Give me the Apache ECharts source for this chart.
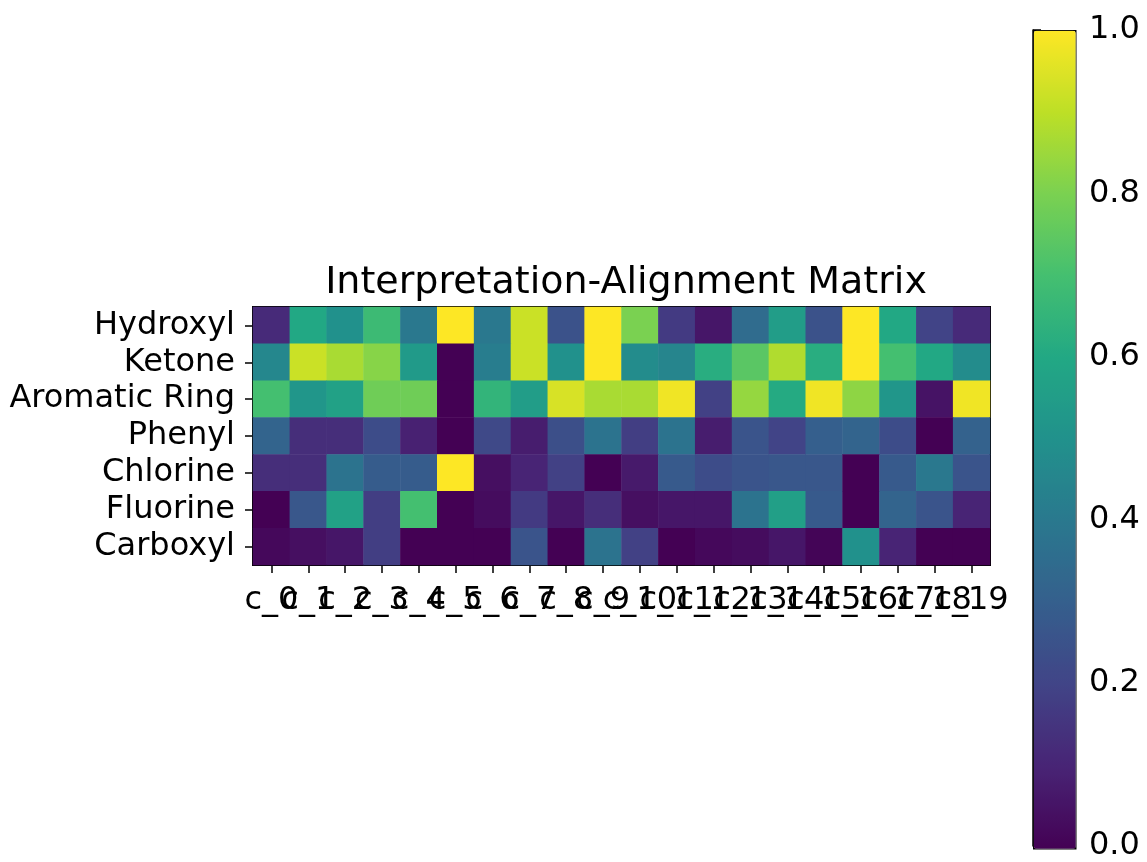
<!DOCTYPE html>
<html>
<head>
<meta charset="utf-8">
<script src="https://cdn.jsdelivr.net/npm/echarts@6/dist/echarts.min.js"></script>
<style>
  html, body { margin: 0; padding: 0; background: #fff; }
  #chart { width: 1147px; height: 862px; }
</style>
</head>
<body>
<div id="chart"></div>
<script>
const groups = ['Hydroxyl', 'Ketone', 'Aromatic Ring', 'Phenyl', 'Chlorine', 'Fluorine', 'Carboxyl']
const columns = ['c_0', 'c_1', 'c_2', 'c_3', 'c_4', 'c_5', 'c_6', 'c_7', 'c_8', 'c_9',
  'c_10', 'c_11', 'c_12', 'c_13', 'c_14', 'c_15', 'c_16', 'c_17', 'c_18', 'c_19']

const hydroxyl = [0.12, 0.60, 0.50, 0.68, 0.40, 1.00, 0.40, 0.92, 0.25, 1.00, 0.80, 0.17, 0.06, 0.35, 0.55, 0.25, 1.00, 0.60, 0.20, 0.12]
const ketone = [0.46, 0.92, 0.87, 0.82, 0.54, 0.00, 0.42, 0.92, 0.50, 1.00, 0.48, 0.45, 0.62, 0.74, 0.88, 0.62, 1.00, 0.70, 0.60, 0.48]
const aromaticRing = [0.70, 0.52, 0.57, 0.78, 0.78, 0.00, 0.65, 0.55, 0.94, 0.87, 0.87, 0.98, 0.19, 0.84, 0.61, 0.98, 0.83, 0.52, 0.05, 0.98]
const phenyl = [0.32, 0.13, 0.13, 0.23, 0.09, 0.00, 0.22, 0.08, 0.24, 0.38, 0.18, 0.38, 0.08, 0.26, 0.20, 0.30, 0.32, 0.23, 0.00, 0.31]
const chlorine = [0.13, 0.13, 0.38, 0.29, 0.29, 1.00, 0.04, 0.10, 0.19, 0.00, 0.07, 0.28, 0.23, 0.26, 0.27, 0.27, 0.00, 0.28, 0.40, 0.26]
const fluorine = [0.00, 0.27, 0.57, 0.18, 0.70, 0.00, 0.03, 0.17, 0.06, 0.13, 0.04, 0.06, 0.06, 0.38, 0.56, 0.28, 0.00, 0.32, 0.26, 0.10]
const carboxyl = [0.02, 0.04, 0.06, 0.18, 0.00, 0.00, 0.00, 0.26, 0.00, 0.38, 0.19, 0.00, 0.02, 0.03, 0.06, 0.01, 0.50, 0.10, 0.00, 0.00]

// viridis stops
const viridis = ['#440154', '#482475', '#414487', '#355f8d', '#2a788e', '#21918c',
  '#22a884', '#44bf70', '#7ad151', '#bddf26', '#fde725']

const rows = [hydroxyl, ketone, aromaticRing, phenyl, chlorine, fluorine, carboxyl]
const cells = []
rows.forEach((row, r) => {
  row.forEach((v, c) => {
    cells.push([c, r, v])
  })
})

const font = 'DejaVu Sans'
const chart = echarts.init(document.getElementById('chart'))

chart.setOption({
  backgroundColor: '#fff',
  animation: false,
  title: {
    text: 'Interpretation-Alignment Matrix',
    left: 621,
    textAlign: 'center',
    top: 259,
    textStyle: {
      fontFamily: font,
      fontSize: 38,
      fontWeight: 'normal',
      color: '#000'
    }
  },
  grid: [{
    left: 253,
    top: 307,
    width: 737,
    height: 258,
    show: true,
    borderColor: '#000',
    borderWidth: 2,
    backgroundColor: 'transparent'
  }, {
    left: 1033,
    top: 30,
    width: 42,
    height: 818,
    show: false
  }],
  xAxis: [{
    type: 'category',
    gridIndex: 0,
    data: columns,
    axisLine: { show: true, lineStyle: { color: '#000', width: 1.5 } },
    axisTick: { show: true, alignWithLabel: true, length: 8, lineStyle: { color: '#000', width: 1.5 } },
    axisLabel: {
      interval: 0,
      hideOverlap: false,
      margin: 20,
      color: '#000',
      fontFamily: font,
      fontSize: 32
    },
    splitLine: { show: false },
    splitArea: { show: false }
  }, {
    type: 'value',
    gridIndex: 1,
    show: false,
    min: 0,
    max: 1
  }],
  yAxis: [{
    type: 'category',
    gridIndex: 0,
    inverse: true,
    data: groups,
    axisLine: { show: true, lineStyle: { color: '#000', width: 1.5 } },
    axisTick: { show: true, alignWithLabel: true, length: 8, lineStyle: { color: '#000', width: 1.5 } },
    axisLabel: {
      interval: 0,
      margin: 18,
      color: '#000',
      fontFamily: font,
      fontSize: 32
    },
    splitLine: { show: false },
    splitArea: { show: false }
  }, {
    type: 'value',
    gridIndex: 1,
    position: 'right',
    min: 0,
    max: 1,
    interval: 0.2,
    axisLine: { show: true, lineStyle: { color: '#000', width: 1.5 } },
    axisTick: { show: true, length: 8, lineStyle: { color: '#000', width: 1.5 } },
    axisLabel: {
      margin: 14,
      color: '#000',
      fontFamily: font,
      fontSize: 32,
      formatter: (v) => v.toFixed(1)
    },
    splitLine: { show: false }
  }],
  visualMap: {
    type: 'continuous',
    min: 0,
    max: 1,
    seriesIndex: 0,
    calculable: false,
    left: 1033,
    top: 30,
    itemWidth: 42,
    itemHeight: 818,
    padding: 0,
    borderColor: '#000',
    borderWidth: 1.5,
    text: null,
    showLabel: false,
    inRange: { color: viridis }
  },
  series: [{
    type: 'heatmap',
    xAxisIndex: 0,
    yAxisIndex: 0,
    data: cells,
    itemStyle: { borderWidth: 0 },
    emphasis: { disabled: true }
  }]
})
</script>
</body>
</html>
